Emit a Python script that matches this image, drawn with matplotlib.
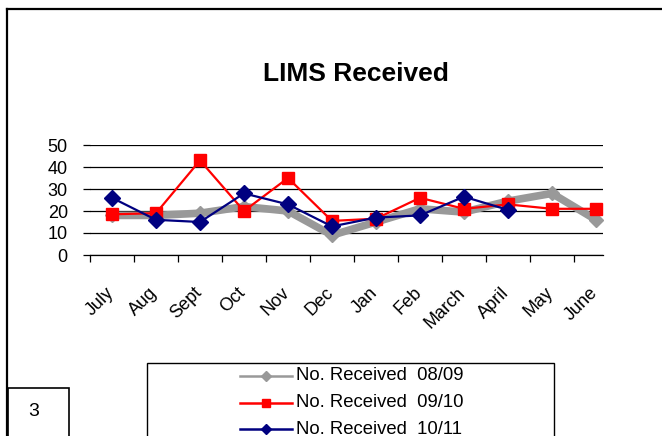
import matplotlib.pyplot as plt
from matplotlib.lines import Line2D
from matplotlib.patches import Rectangle

plt.rcParams["font.family"] = ["Liberation Sans", "DejaVu Sans"]

months = ["July", "Aug", "Sept", "Oct", "Nov", "Dec",
          "Jan", "Feb", "March", "April", "May", "June"]
rec_0809 = [18, 18, 19, 22, 20, 9, 15, 21, 19.5, 24.5, 28, 16]
rec_0910 = [18.5, 19, 43, 20, 35, 15.5, 16.5, 26, 21, 23, 21, 21]
rec_1011 = [26, 16, 15, 28, 23, 13, 17, 18, 26.5, 20.5]
series_names = ["No. Received  08/09", "No. Received  09/10", "No. Received  10/11"]

W, H = 662, 442


def fx(x):
    return x / W


def fy(y):
    return 1 - y / H


fig = plt.figure(figsize=(6.62, 4.42), dpi=100)

# plot area in pixels: x 90..603, y 145..255
ax = fig.add_axes([fx(90), fy(255), fx(603 - 90), (255 - 145) / H])

gray = "#999999"
navy = "#000080"
ax.plot(range(len(rec_0809)), rec_0809, color=gray, lw=5.5, marker="D",
        ms=7, solid_joinstyle="miter", zorder=3)
ax.plot(range(len(rec_0910)), rec_0910, color="red", lw=1.6, marker="s",
        ms=9, zorder=4)
ax.plot(range(len(rec_1011)), rec_1011, color=navy, lw=1.6, marker="D",
        ms=8, zorder=5)

ax.set_ylim(0, 50)
ax.set_yticks(range(0, 51, 10))
ax.set_xlim(-0.5, 11.16)
ax.set_xticks([i - 0.5 for i in range(12)])
ax.set_xticklabels([])
ax.grid(axis="y", color="black", lw=0.9)
ax.set_axisbelow(True)
for s in ["left", "right", "top"]:
    ax.spines[s].set_visible(False)
ax.spines["bottom"].set_linewidth(0.9)
ax.tick_params(axis="y", length=5, width=0.9, direction="out",
               labelsize=13, pad=11)
ax.tick_params(axis="x", length=5, width=0.9, direction="out")

# rotated category labels, centred on each category
for i, m in enumerate(months):
    ax.annotate(m, xy=(i, 0), xycoords=("data", "axes fraction"),
                xytext=(5, -29), textcoords="offset pixels",
                rotation=45, ha="right", va="top", fontsize=13)

fig.text(fx(356), fy(74), "LIMS Received", ha="center", va="center",
         fontsize=19, fontweight="bold")

# page frame
fig.add_artist(Line2D([fx(7), fx(7)], [fy(9), fy(442)], color="black", lw=1.6))
fig.add_artist(Line2D([fx(7), fx(662)], [fy(9), fy(9)], color="black", lw=1.6))

# legend box
fig.add_artist(Rectangle((fx(147), fy(450)), fx(554 - 147), (450 - 363) / H,
                         fill=False, edgecolor="black", lw=1))
leg_styles = [(gray, "D", 5), ("red", "s", 6), (navy, "D", 5)]
for k, (name, (c, mk, ms)) in enumerate(zip(series_names, leg_styles)):
    yy = 376 + 26.5 * k
    fig.add_artist(Line2D([fx(240), fx(292)], [fy(yy), fy(yy)], color=c,
                          lw=1.8))
    fig.add_artist(Line2D([fx(266)], [fy(yy)], color=c, marker=mk, ms=ms,
                          lw=0))
    fig.text(fx(296), fy(yy), name, ha="left", va="center", fontsize=13.3)

# page-number box
fig.add_artist(Rectangle((fx(8), fy(450)), fx(69 - 8), (450 - 388) / H,
                         fill=False, edgecolor="black", lw=1.2))
fig.text(fx(34), fy(411), "3", ha="center", va="center", fontsize=14)

# clipped bottom edge
fig.add_artist(Rectangle((0, 0), 1, 6.5 / H, facecolor="white",
                         edgecolor="none", zorder=10))

fig.savefig("out.png", dpi=100)
